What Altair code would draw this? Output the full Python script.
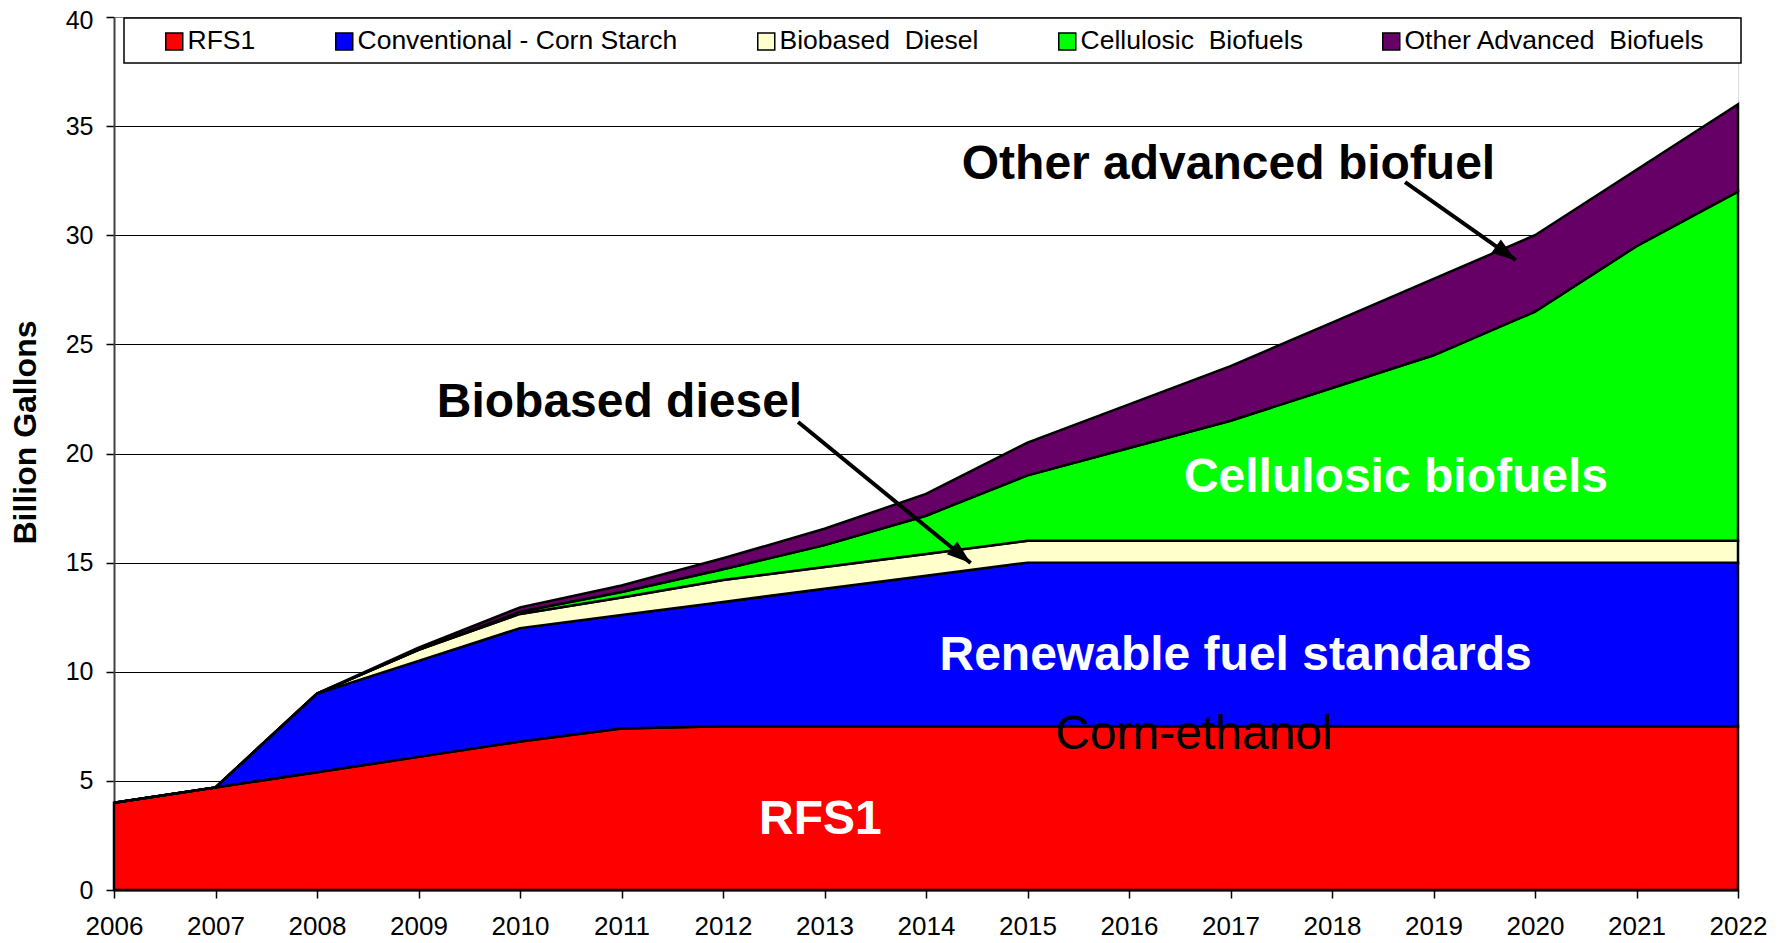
import altair as alt
import pandas as pd

FONT = "Liberation Sans, Arial, sans-serif"

years = list(range(2006, 2023))
series_names = ["RFS1", "Conventional - Corn Starch", "Biobased\u00a0 Diesel",
                "Cellulosic\u00a0 Biofuels", "Other Advanced\u00a0 Biofuels"]
series_colors = ["#FF0000", "#0000FF", "#FFFFCC", "#00FF00", "#660066"]

rfs1 = [4.0, 4.7, 5.4, 6.1, 6.8, 7.4, 7.5, 7.5, 7.5, 7.5, 7.5, 7.5, 7.5, 7.5, 7.5, 7.5, 7.5]
conventional = [0, 0, 3.6, 4.4, 5.2, 5.2, 5.7, 6.3, 6.9, 7.5, 7.5, 7.5, 7.5, 7.5, 7.5, 7.5, 7.5]
biodiesel = [0, 0, 0, 0.5, 0.65, 0.8, 1.0, 1.0, 1.0, 1.0, 1.0, 1.0, 1.0, 1.0, 1.0, 1.0, 1.0]
cellulosic = [0, 0, 0, 0, 0.1, 0.25, 0.5, 1.0, 1.75, 3.0, 4.25, 5.5, 7.0, 8.5, 10.5, 13.5, 16.0]
other_adv = [0, 0, 0, 0.1, 0.2, 0.3, 0.5, 0.75, 1.0, 1.5, 2.0, 2.5, 3.0, 3.5, 3.5, 3.5, 4.0]

y_ticks = [0, 5, 10, 15, 20, 25, 30, 35, 40]

# annotation labels (data coordinates)
ann_text = ["Other advanced biofuel", "Biobased diesel", "Cellulosic biofuels",
            "Renewable fuel standards", "RFS1"]
ann_x = [2016.98, 2010.98, 2018.63, 2017.05, 2012.96]
ann_y = [32.57, 21.65, 18.23, 10.08, 2.56]
ann_color = ["black", "black", "white", "white", "white"]

plain_text = ["Corn-ethanol"]
plain_x = [2016.64]
plain_y = [6.46]

arrow_x = [2012.74, 2018.72]
arrow_y = [21.44, 32.43]
arrow_x2 = [2014.44, 2019.81]
arrow_y2 = [14.98, 28.86]
arrow_angle = [129.2, 125.1]

rows = []
for k, (name, vals) in enumerate(zip(series_names,
                                     [rfs1, conventional, biodiesel, cellulosic, other_adv])):
    for yr, v in zip(years, vals):
        rows.append({"series": name, "year": yr, "value": v, "ord": k})
df = pd.DataFrame(rows)

W, H = 1624, 873

xscale = alt.Scale(domain=[2006, 2022], nice=False, zero=False)
yscale = alt.Scale(domain=[0, 40], nice=False)

x_axis = alt.Axis(values=years, format="d", title=None, grid=False,
                  labelFontSize=26, labelFont=FONT, labelColor="black",
                  tickSize=8, tickColor="black", tickWidth=1.5,
                  domainColor="black", domainWidth=2, labelPadding=15,
                  labelFlush=False, labelOverlap=False)
y_axis = alt.Axis(values=y_ticks, title="Billion Gallons",
                  titleFont=FONT, titleFontSize=32, titleFontWeight="bold",
                  titleColor="black", titleAngle=270, titleX=-89, titleY=415,
                  titleAlign="center", titleBaseline="middle",
                  labelFontSize=25, labelFont=FONT, labelColor="black",
                  labelOffset=alt.condition("datum.value == 40", alt.value(3.5), alt.value(0)),
                  tickSize=8, tickColor="black", tickWidth=1.5,
                  domainColor="#404040", domainWidth=2, labelPadding=13,
                  grid=True,
                  gridColor=alt.condition("datum.value == 40", alt.value("#808080"), alt.value("black")),
                  gridWidth=1)

areas = alt.Chart(df).mark_area(stroke="black", strokeWidth=2.5, opacity=1,
                                interpolate="linear").encode(
    x=alt.X("year:Q", scale=xscale, axis=x_axis),
    y=alt.Y("value:Q", scale=yscale, axis=y_axis, stack="zero"),
    color=alt.Color("series:N",
                    scale=alt.Scale(domain=series_names, range=series_colors),
                    legend=alt.Legend(title=None, orient="none", legendX=47, legendY=11,
                                      direction="horizontal", padding=0,
                                      symbolType="square", symbolSize=289,
                                      symbolStrokeColor="black", symbolStrokeWidth=1.5,
                                      symbolOpacity=1,
                                      labelFont=FONT, labelFontSize=26.5, labelColor="black",
                                      labelOffset=0, labelLimit=600, columnPadding=75)),
    order=alt.Order("ord:Q"),
)

frame = alt.Chart(pd.DataFrame({"k": [0]})).mark_rect(
    fill="white", stroke="black", strokeWidth=1.5).encode(
    x=alt.value(10), x2=alt.value(1627), y=alt.value(1), y2=alt.value(46))

ann_df = pd.DataFrame({"t": ann_text, "x": ann_x, "y": ann_y, "c": ann_color})
ann = alt.Chart(ann_df).mark_text(font=FONT, fontSize=48, fontWeight="bold",
                                  align="center", baseline="alphabetic").encode(
    x=alt.X("x:Q", scale=xscale), y=alt.Y("y:Q", scale=yscale),
    text="t:N", color=alt.Color("c:N", scale=None))

plain_df = pd.DataFrame({"t": plain_text, "x": plain_x, "y": plain_y})
plain = alt.Chart(plain_df).mark_text(font=FONT, fontSize=48, fontWeight="normal",
                                      align="center", baseline="alphabetic",
                                      color="black").encode(
    x=alt.X("x:Q", scale=xscale), y=alt.Y("y:Q", scale=yscale), text="t:N")

arr_df = pd.DataFrame({"x": arrow_x, "y": arrow_y, "x2": arrow_x2, "y2": arrow_y2,
                       "ang": arrow_angle})
arrow_lines = alt.Chart(arr_df).mark_rule(color="black", strokeWidth=4).encode(
    x=alt.X("x:Q", scale=xscale), y=alt.Y("y:Q", scale=yscale),
    x2="x2:Q", y2="y2:Q")
arrow_heads = alt.Chart(arr_df).mark_point(
    shape="M0,0 L0.55,1.6 L-0.55,1.6 Z", filled=True, fill="black",
    opacity=1, size=900, strokeWidth=0).encode(
    x=alt.X("x2:Q", scale=xscale), y=alt.Y("y2:Q", scale=yscale),
    angle=alt.Angle("ang:Q", scale=None))

chart = alt.layer(areas, frame, ann, plain, arrow_lines, arrow_heads).properties(
    width=W, height=H,
    autosize="none",
    padding={"left": 106, "top": 9, "right": 30, "bottom": 50},
).configure_view(stroke="#808080", strokeWidth=2).configure(background="white")

chart.save("out.html", embed_options={"renderer": "svg", "actions": False})
